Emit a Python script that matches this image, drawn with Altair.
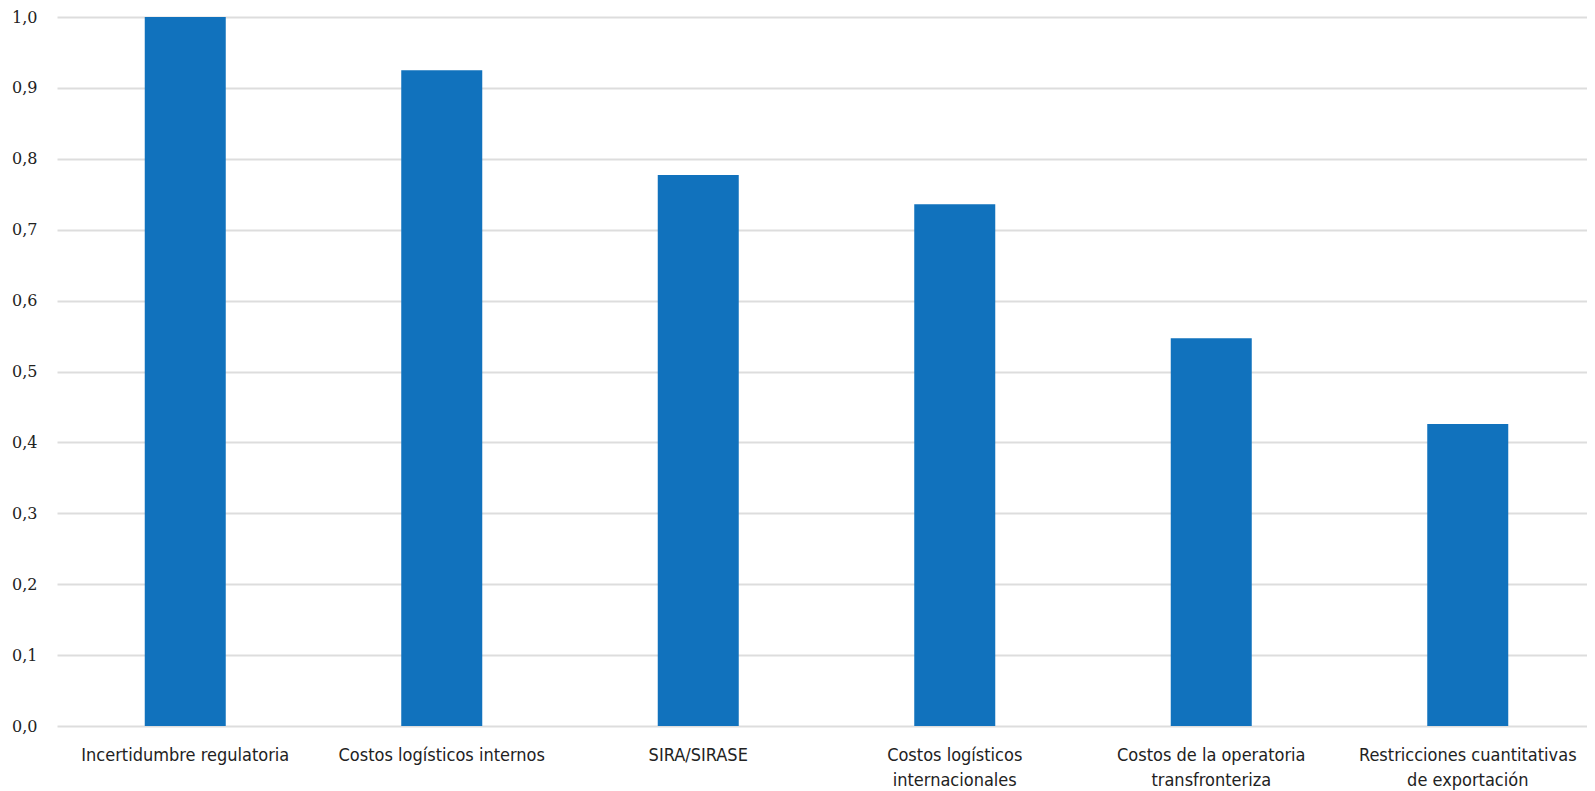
import altair as alt
import pandas as pd

categories = [
    "Incertidumbre regulatoria",
    "Costos logísticos internos",
    "SIRA/SIRASE",
    "Costos logísticos|internacionales",
    "Costos de la operatoria|transfronteriza",
    "Restricciones cuantitativas|de exportación",
]
values = [1.0, 0.925, 0.777, 0.736, 0.547, 0.426]
y_ticks = [0.0, 0.1, 0.2, 0.3, 0.4, 0.5, 0.6, 0.7, 0.8, 0.9, 1.0]

df = pd.DataFrame({"cat": categories, "val": values})

font = "DejaVu Sans Condensed, Liberation Sans Narrow, sans-serif"

chart = alt.Chart(df).mark_bar(size=81, color="#1172BD").encode(
    x=alt.X(
        "cat:N",
        sort=categories,
        title=None,
        scale=alt.Scale(paddingInner=0, paddingOuter=0, range=[0, 1539]),
        axis=alt.Axis(
            labelExpr="split(datum.label, '|')",
            labelAngle=0,
            labelFont=font,
            labelFontSize=18,
            labelColor="#222222",
            labelPadding=20,
            labelLineHeight=25,
            labelLimit=0,
            ticks=False,
            domain=False,
            grid=False,
        ),
    ),
    y=alt.Y(
        "val:Q",
        title=None,
        scale=alt.Scale(domain=[0, 1], nice=False),
        axis=alt.Axis(
            values=y_ticks,
            labelExpr="replace(format(datum.value, '.1f'), '.', ',')",
            labelFont="DejaVu Serif, serif",
            labelFontSize=16,
            labelColor="#222222",
            labelPadding=20,
            ticks=False,
            domain=False,
            gridColor="#dddddd",
            gridWidth=2,
        ),
    ),
).properties(
    width=1530,
    height=709,
    autosize=alt.AutoSizeParams(type="none"),
    padding={"left": 49, "top": 9, "right": 0, "bottom": 66},
).configure_view(stroke=None)

chart.save("out.html", embed_options={"renderer": "svg", "actions": False})
